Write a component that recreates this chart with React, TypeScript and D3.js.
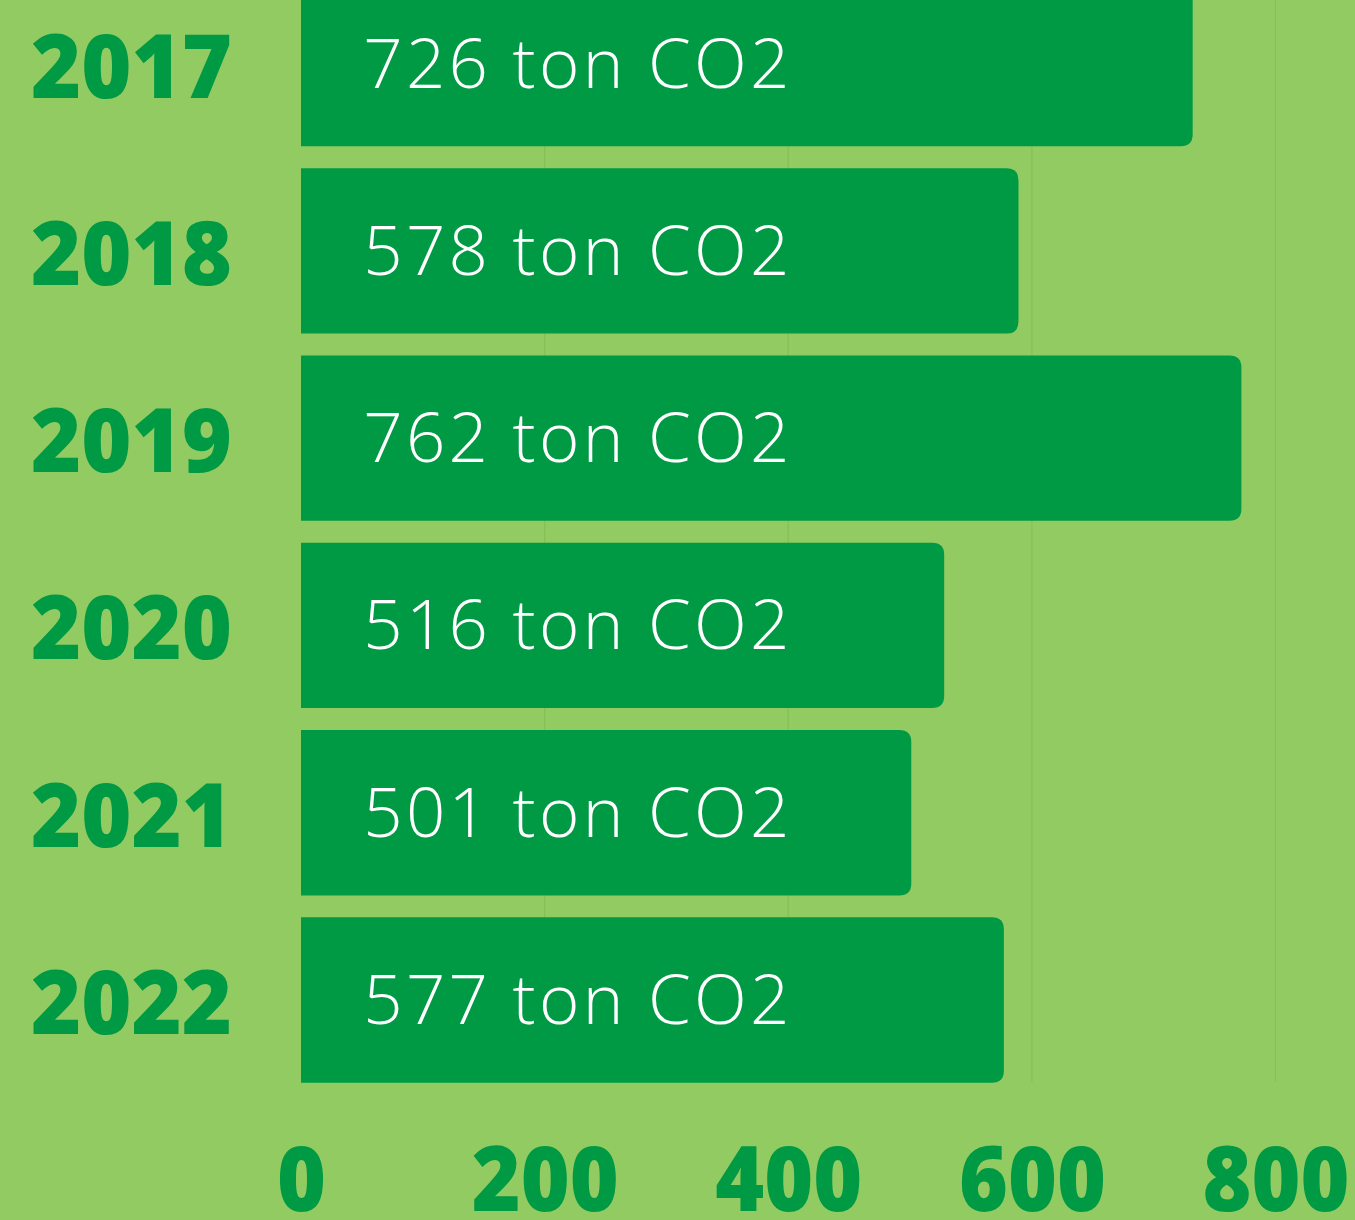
import { useEffect, useRef } from "react";
import * as d3 from "d3";

// bar lengths as drawn, and the text printed inside each bar
const years = ["2017", "2018", "2019", "2020", "2021", "2022"];
const values = [732, 589, 772, 528, 501, 577];
const labels = ["726 ton CO2", "578 ton CO2", "762 ton CO2", "516 ton CO2", "501 ton CO2", "577 ton CO2"];
const ticks = [0, 200, 400, 600, 800];

const GREEN = "#009A44";
const BG = "#92CB62";

export default function App() {
  const ref = useRef<SVGSVGElement>(null);

  useEffect(() => {
    const el = ref.current;
    if (!el) return;
    const W = 1355, H = 1220;
    const svg = d3.select(el).attr("width", W).attr("height", H).attr("viewBox", `0 0 ${W} ${H}`);
    svg.selectAll("*").remove();

    svg.append("rect").attr("width", W).attr("height", H).attr("fill", BG);

    const x = d3.scaleLinear().domain([0, 800]).range([301, 1275.5]);
    const y = d3.scaleBand<string>().domain(years).range([-30, 1093.6]).paddingInner(0.117).paddingOuter(0.0585);
    const data = years.map((k, i) => ({ k, v: values[i], l: labels[i] }));

    // vertical grid
    svg.append("g").selectAll("line").data(ticks.slice(1)).join("line")
      .attr("x1", (d) => x(d)).attr("x2", (d) => x(d)).attr("y1", 0).attr("y2", 1082)
      .attr("stroke", "#84C156").attr("stroke-width", 1.2);

    // bars: square on the left, rounded on the right
    const r = 12;
    svg.append("g").selectAll("path").data(data).join("path")
      .attr("fill", GREEN)
      .attr("d", (d) => {
        const x0 = x(0), x1 = x(d.v), y0 = y(d.k) ?? 0, y1 = y0 + y.bandwidth();
        return `M${x0},${y0}H${x1 - r}Q${x1},${y0} ${x1},${y0 + r}V${y1 - r}Q${x1},${y1} ${x1 - r},${y1}H${x0}Z`;
      });

    // value text inside bars
    svg.append("g").selectAll("text").data(data).join("text")
      .attr("x", 578).attr("y", (d) => (y(d.k) ?? 0) + y.bandwidth() / 2 + 24)
      .attr("text-anchor", "middle").attr("fill", "#fff")
      .attr("font-family", "'Open Sans', sans-serif").attr("font-weight", 300)
      .attr("font-size", 69).attr("letter-spacing", 3.3).text((d) => d.l);

    // year labels
    svg.append("g").selectAll("text").data(data).join("text")
      .attr("x", 31).attr("y", (d) => (y(d.k) ?? 0) + y.bandwidth() / 2 + 34)
      .attr("fill", GREEN).attr("font-family", "'Open Sans', sans-serif").attr("font-weight", 800)
      .attr("font-size", 88).attr("textLength", 201).attr("lengthAdjust", "spacingAndGlyphs")
      .text((d) => d.k);

    // x axis labels
    const ax = svg.append("g").attr("transform", "translate(0,1130)")
      .call(d3.axisBottom(x).tickValues(ticks).tickSize(0).tickPadding(0).tickFormat((d) => String(d)));
    ax.select(".domain").remove();
    ax.selectAll<SVGTextElement, number>("text")
      .attr("dy", 0).attr("y", 81)
      .attr("fill", GREEN).attr("font-family", "'Open Sans', sans-serif").attr("font-weight", 800)
      .attr("font-size", 90)
      .attr("textLength", (d) => String(d).length * 49).attr("lengthAdjust", "spacingAndGlyphs");
  }, []);

  return <svg ref={ref} style={{ position: "absolute", left: 0, top: 0 }} role="img" aria-label="CO2 per year" />;
}
